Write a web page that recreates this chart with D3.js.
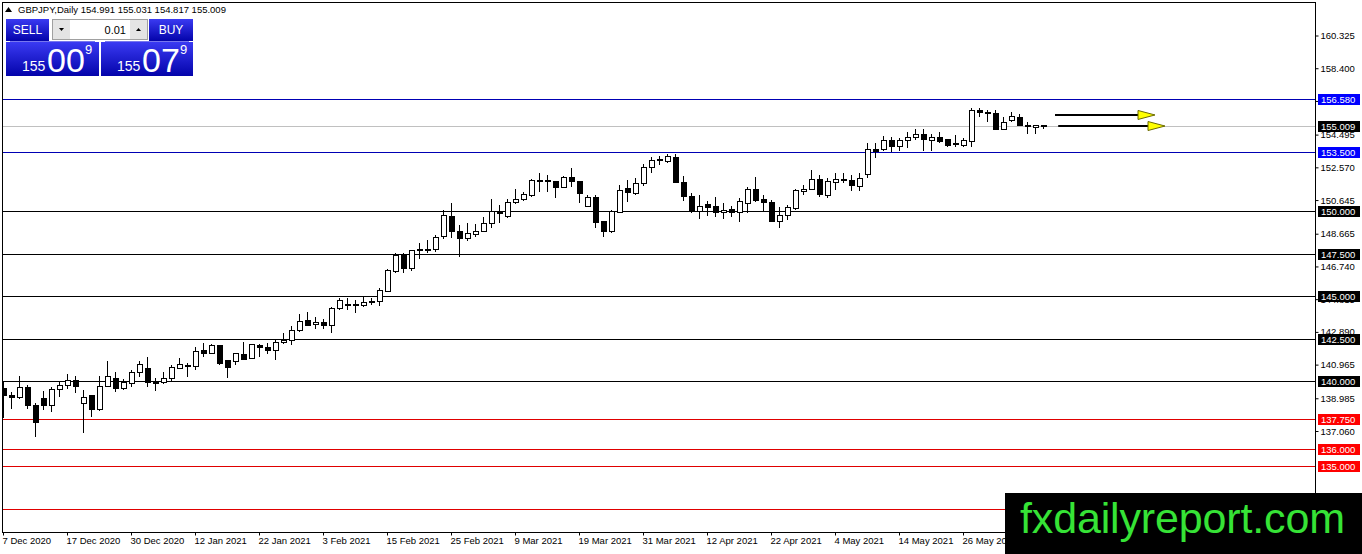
<!DOCTYPE html>
<html>
<head>
<meta charset="utf-8">
<script src="https://cdnjs.cloudflare.com/ajax/libs/d3/7.8.5/d3.min.js"></script>
<style>
  body { margin: 0; background: #fff; }
  svg { display: block; font-family: "Liberation Sans", Arial, sans-serif; }
</style>
</head>
<body>
<div id="chart"></div>
<script>
// Daily GBPJPY candles, oldest first (one bar per trading day)
const opens = [139.57,139.16,139.02,139.63,138.57,138.98,138.57,139.51,139.71,140.04,
  138.69,139.12,138.35,139.66,140.16,139.55,139.86,140.49,140.75,140.00,
  139.92,140.16,140.75,140.90,140.88,141.78,141.63,142.08,141.18,141.12,
  141.57,141.31,142.10,141.96,141.80,142.25,142.41,142.96,143.57,143.33,
  143.47,143.27,144.28,144.51,144.51,144.45,144.69,144.69,145.28,146.45,
  147.39,146.59,147.75,147.75,147.71,148.49,149.69,148.82,148.37,148.63,
  148.81,149.28,149.98,149.66,150.49,150.66,150.90,151.82,151.76,151.71,
  151.37,151.98,151.75,150.28,150.82,149.37,148.81,149.92,151.33,151.04,
  151.63,152.57,153.04,152.92,153.16,151.69,150.88,150.00,150.39,150.28,
  149.92,150.08,149.92,150.45,151.28,150.65,150.53,149.39,149.75,150.12,
  151.14,151.28,151.86,150.90,151.69,151.86,151.80,151.43,152.16,153.59,
  153.59,154.12,153.78,154.16,154.33,154.51,154.16,154.33,154.22,153.94,
  153.88,154.08,155.94,155.80,155.75,154.82,155.31,155.51,155.04,154.94,
  154.991];
const highs = [139.96,139.35,140.29,139.76,138.69,139.41,139.66,139.96,140.41,140.29,
  139.47,139.15,140.29,141.18,140.53,140.10,140.65,141.18,141.43,140.16,
  140.53,140.94,141.34,141.04,141.98,142.22,142.18,142.09,141.24,141.65,
  142.31,142.18,142.18,142.25,142.45,142.80,143.24,143.94,144.06,143.75,
  143.63,144.37,144.88,144.88,144.76,145.00,144.90,145.47,146.61,147.51,
  147.51,147.71,148.10,148.29,148.61,150.06,150.45,149.18,149.28,149.24,
  149.66,150.71,150.33,150.71,151.28,151.14,151.86,152.22,152.12,151.72,
  152.06,152.51,151.77,150.94,150.94,149.43,150.06,151.53,151.82,151.92,
  152.76,153.16,153.24,153.35,153.35,152.06,151.08,150.94,150.59,150.84,
  150.45,150.31,150.75,151.43,151.98,150.94,150.65,150.25,150.33,151.29,
  151.53,152.41,152.12,151.92,152.25,152.25,152.12,152.22,153.98,153.98,
  154.39,154.37,154.31,154.67,154.82,154.82,154.51,154.63,154.23,154.47,
  154.31,156.04,156.04,155.94,155.94,155.51,155.80,155.71,155.25,155.04,
  155.031];
const lows = [137.82,138.33,138.94,138.33,136.72,138.29,138.19,139.08,139.51,139.28,
  136.92,137.90,138.22,139.63,139.35,139.47,139.63,140.22,139.63,139.43,
  139.82,140.02,140.69,140.25,140.65,141.43,141.59,140.94,140.19,140.94,
  141.24,141.28,141.43,141.59,141.24,142.18,142.12,142.90,143.24,143.08,
  143.04,142.80,144.18,144.18,143.98,144.33,144.49,144.41,145.24,146.37,
  146.37,146.49,147.19,147.51,147.61,148.33,148.39,147.28,148.25,148.49,
  148.78,148.98,149.31,149.61,150.39,150.61,150.84,151.14,151.14,150.75,
  151.33,151.43,150.49,150.25,149.02,148.49,148.72,149.90,150.55,150.94,
  151.47,152.25,152.71,152.84,151.63,150.61,149.86,149.53,149.71,149.63,
  149.53,149.63,149.33,149.86,150.51,150.02,149.37,149.02,149.47,150.06,
  150.94,151.24,150.84,150.75,151.24,151.63,151.20,151.20,151.92,153.10,
  153.53,153.45,153.53,153.69,154.18,153.53,153.53,153.98,153.75,153.75,
  153.75,153.75,155.55,155.25,154.80,154.78,155.25,154.98,154.51,154.51,
  154.817];
const closes = [139.14,139.06,139.63,138.55,137.57,138.57,139.53,139.71,140.04,139.66,
  139.04,138.35,139.69,140.29,139.55,139.90,140.49,140.98,139.92,139.88,
  140.16,140.81,140.98,140.92,141.76,141.63,142.08,141.02,140.78,141.59,
  141.29,142.12,141.98,141.78,142.25,142.41,142.98,143.51,143.29,143.45,
  143.24,144.24,144.76,144.43,144.45,144.63,144.63,145.34,146.53,147.39,
  146.63,147.67,147.67,147.67,148.45,149.71,148.81,148.37,148.65,148.82,
  149.28,149.96,149.86,150.51,150.69,151.00,151.81,151.75,151.78,151.37,
  151.98,151.71,151.02,150.82,149.31,148.78,149.96,151.22,151.10,151.63,
  152.57,153.00,152.96,153.18,151.69,150.84,150.00,150.25,150.19,149.92,
  150.06,149.92,150.57,151.28,150.59,150.49,149.39,149.75,150.19,151.19,
  151.28,151.86,150.96,151.71,151.86,151.78,151.49,151.92,153.59,153.51,
  154.12,153.78,154.12,154.35,154.51,154.18,154.35,154.08,153.88,153.96,
  154.12,155.94,155.82,155.72,154.82,155.22,155.55,155.02,154.98,155.04,
  155.009];

// time axis labels, one every 8 bars
const dateLabels = ["7 Dec 2020", "17 Dec 2020", "30 Dec 2020", "12 Jan 2021", "22 Jan 2021",
  "3 Feb 2021", "15 Feb 2021", "25 Feb 2021", "9 Mar 2021", "19 Mar 2021", "31 Mar 2021",
  "12 Apr 2021", "22 Apr 2021", "4 May 2021", "14 May 2021", "26 May 2021"];

// price scale labels
const priceTicks = [160.325, 158.4, 156.475, 154.495, 152.57, 150.645, 148.665,
  146.74, 144.815, 142.89, 140.965, 138.985, 137.06];

// horizontal levels
const blueLevels = [156.58, 153.5];
const blackLevels = [150, 147.5, 145, 142.5, 140];
const redLevels = [137.75, 136, 135, 132.5];

// quote
const symbol = "GBPJPY,Daily";
const bid = 155.009, ask = 155.079;
const lotSize = "0.01";

// projection arrows (bar index from / to, price)
const arrowFrom = [131.5, 131.9];
const arrowTo = [144, 145.25];
const arrowPrice = [155.65, 155.0];

const width = 1362, height = 554;
const plot = {left: 3, right: 1316, top: 3, bottom: 533};
const barStep = 8;
const watermark = {x: 1005, y: 493};

const svg = d3.select("#chart")
  .append("svg")
    .attr("width", width)
    .attr("height", height);

const defs = svg.append("defs");
defs.append("clipPath").attr("id", "plotClip")
  .append("rect")
    .attr("x", plot.left).attr("y", plot.top)
    .attr("width", plot.right - plot.left).attr("height", plot.bottom - plot.top);

const grad = defs.append("linearGradient").attr("id", "blueGrad")
  .attr("x1", 0).attr("y1", 0).attr("x2", 0).attr("y2", 1);
grad.append("stop").attr("offset", "0%").attr("stop-color", "#3a3af2");
grad.append("stop").attr("offset", "100%").attr("stop-color", "#0303aa");

// Scales
const x = d3.scaleLinear()
  .domain([0, (plot.right - plot.left) / barStep])
  .range([plot.left, plot.right]);
const y = d3.scaleLinear()
  .domain([137.06, 160.325])
  .range([431, 35.5]);

const bars = d3.range(opens.length).map(i => ({
  i: i, o: opens[i], h: highs[i], l: lows[i], c: closes[i]
}));

const fmt = d3.format(".3f");

// Horizontal levels and bid line
const plotG = svg.append("g").attr("clip-path", "url(#plotClip)");

const levels = []
  .concat(blueLevels.map(p => ({p: p, line: "#0000b4", box: "#0000ff"})))
  .concat(blackLevels.map(p => ({p: p, line: "#000000", box: "#000000"})))
  .concat(redLevels.map(p => ({p: p, line: "#e00000", box: "#ff0000"})));

plotG.append("line")
  .attr("x1", plot.left).attr("x2", plot.right)
  .attr("y1", Math.round(y(bid)) + 0.5).attr("y2", Math.round(y(bid)) + 0.5)
  .attr("stroke", "#c0c0c0");

plotG.selectAll("line.level")
  .data(levels)
  .enter()
  .append("line")
    .attr("class", "level")
    .attr("x1", plot.left).attr("x2", plot.right)
    .attr("y1", d => Math.round(y(d.p)) + 0.5)
    .attr("y2", d => Math.round(y(d.p)) + 0.5)
    .attr("stroke", d => d.line);

// Candles
const candle = plotG.selectAll("g.candle")
  .data(bars)
  .enter()
  .append("g")
    .attr("class", "candle")
    .attr("shape-rendering", "crispEdges");

candle.append("line")
  .attr("x1", d => x(d.i) + 0.5).attr("x2", d => x(d.i) + 0.5)
  .attr("y1", d => y(d.h)).attr("y2", d => y(d.l))
  .attr("stroke", "#000");

candle.append("rect")
  .attr("x", d => x(d.i) - 2)
  .attr("width", 5)
  .attr("y", d => y(Math.max(d.o, d.c)))
  .attr("height", d => Math.max(1, y(Math.min(d.o, d.c)) - y(Math.max(d.o, d.c))))
  .attr("fill", d => d.c >= d.o ? "#fff" : "#000")
  .attr("stroke", "#000");

// Arrows
const arrows = d3.range(arrowPrice.length).map(i => ({from: arrowFrom[i], to: arrowTo[i], p: arrowPrice[i]}));
plotG.selectAll("line.arrow")
  .data(arrows)
  .enter()
  .append("line")
    .attr("x1", d => x(d.from))
    .attr("x2", d => x(d.to) - 17)
    .attr("y1", d => y(d.p)).attr("y2", d => y(d.p))
    .attr("stroke", "#000")
    .attr("stroke-width", 2);
plotG.selectAll("path.arrowhead")
  .data(arrows)
  .enter()
  .append("path")
    .attr("d", d => {
      const tx = x(d.to), ty = y(d.p);
      return `M${tx - 17},${ty - 4.5}L${tx},${ty}L${tx - 17},${ty + 4.5}Z`;
    })
    .attr("fill", "#ffff00")
    .attr("stroke", "#6b6b00")
    .attr("stroke-width", 1);

// Frame
svg.append("rect")
  .attr("x", plot.left - 0.5).attr("y", plot.top - 0.5)
  .attr("width", plot.right - plot.left).attr("height", plot.bottom - plot.top)
  .attr("fill", "none")
  .attr("stroke", "#000");
svg.append("line")
  .attr("x1", plot.right - 0.5).attr("x2", plot.right - 0.5)
  .attr("y1", plot.bottom).attr("y2", height)
  .attr("stroke", "#000");

// Price axis
const yAxis = svg.append("g")
  .attr("transform", `translate(${plot.right - 0.5},0)`)
  .call(d3.axisRight(y).tickValues(priceTicks).tickFormat(fmt).tickSize(3).tickPadding(2));
yAxis.select(".domain").remove();
yAxis.selectAll("text")
  .style("font-family", "Liberation Sans, Arial, sans-serif")
  .style("font-size", "9.5px")
  .attr("fill", "#000");

// Level labels on the price axis (the ones under the watermark are not visible)
const levelLabels = levels.concat([{p: bid, line: "#c0c0c0", box: "#000000"}])
  .filter(d => y(d.p) < watermark.y);
const lab = svg.selectAll("g.levelLabel")
  .data(levelLabels)
  .enter()
  .append("g")
    .attr("class", "levelLabel")
    .attr("transform", d => `translate(${plot.right + 2},${Math.round(y(d.p))})`);
lab.append("rect")
  .attr("x", 0).attr("y", -5)
  .attr("width", 42).attr("height", 11)
  .attr("fill", d => d.box);
lab.append("text")
  .attr("x", 3).attr("y", 4)
  .attr("fill", "#fff")
  .style("font-size", "9.5px")
  .text(d => fmt(d.p));

// Time axis
const xAxis = svg.append("g")
  .attr("transform", `translate(0,${plot.bottom - 0.5})`)
  .call(d3.axisBottom(x)
    .tickValues(dateLabels.map((d, k) => k * barStep))
    .tickFormat((d, k) => dateLabels[k])
    .tickSize(3).tickPadding(2));
xAxis.select(".domain").remove();
xAxis.selectAll("text")
  .attr("text-anchor", "start")
  .attr("dx", -1)
  .style("font-family", "Liberation Sans, Arial, sans-serif")
  .style("font-size", "9.5px")
  .attr("fill", "#000");

// Header
const last = bars[bars.length - 1];
svg.append("path")
  .attr("d", "M5,12L8.5,7L12,12Z")
  .attr("fill", "#000");
svg.append("text")
  .attr("x", 18).attr("y", 13)
  .style("font-size", "9.5px")
  .text(`${symbol}  ${fmt(last.o)} ${fmt(last.h)} ${fmt(last.l)} ${fmt(last.c)}`);

// One click trading panel
const panel = svg.append("g");
const quotes = [{price: bid, x0: 6, w: 93},
                {price: ask, x0: 101, w: 92}];

panel.append("rect").attr("x", 6).attr("y", 19).attr("width", 43).attr("height", 22).attr("fill", "url(#blueGrad)");
panel.append("rect").attr("x", 149).attr("y", 19).attr("width", 44).attr("height", 22).attr("fill", "url(#blueGrad)");
panel.append("text").attr("x", 27.5).attr("y", 34).attr("text-anchor", "middle")
  .attr("fill", "#fff").style("font-size", "12px").text("SELL");
panel.append("text").attr("x", 171).attr("y", 34).attr("text-anchor", "middle")
  .attr("fill", "#fff").style("font-size", "12px").text("BUY");

// lot box
panel.append("rect").attr("x", 52.5).attr("y", 19.5).attr("width", 95).attr("height", 20)
  .attr("fill", "#fff").attr("stroke", "#a0a0a0");
panel.append("rect").attr("x", 53).attr("y", 20).attr("width", 17).attr("height", 19).attr("fill", "#e4e4e4");
panel.append("rect").attr("x", 130).attr("y", 20).attr("width", 17).attr("height", 19).attr("fill", "#e4e4e4");
panel.append("path").attr("d", "M59,28L64,28L61.5,31Z").attr("fill", "#000");
panel.append("path").attr("d", "M136,31L141,31L138.5,28Z").attr("fill", "#000");
panel.append("text").attr("x", 126).attr("y", 34).attr("text-anchor", "end")
  .style("font-size", "11px").text(lotSize);

// price boxes
quotes.forEach(q => {
  const s = fmt(q.price);          // e.g. 155.009
  const big = s.slice(0, 3), pips = s.slice(4, 6), frac = s.slice(6);
  panel.append("rect").attr("x", q.x0).attr("y", 42).attr("width", q.w).attr("height", 34)
    .attr("fill", "url(#blueGrad)");
  panel.append("line").attr("x1", q.x0 + 4).attr("x2", q.x0 + q.w - 4)
    .attr("y1", 41.5).attr("y2", 41.5).attr("stroke", "#7777ee");
  panel.append("text").attr("x", q.x0 + 16).attr("y", 71)
    .attr("fill", "#fff").style("font-size", "14px").text(big);
  panel.append("text").attr("x", q.x0 + 41).attr("y", 72)
    .attr("fill", "#fff").style("font-size", "34px").text(pips);
  panel.append("text").attr("x", q.x0 + 79).attr("y", 54)
    .attr("fill", "#fff").style("font-size", "13px").text(frac);
});

// Watermark box
svg.append("rect")
  .attr("x", watermark.x).attr("y", watermark.y)
  .attr("width", width - watermark.x).attr("height", height - watermark.y)
  .attr("fill", "#000");
svg.append("text")
  .attr("x", watermark.x + 15).attr("y", 533)
  .attr("fill", "#36e336")
  .attr("textLength", 325)
  .style("font-size", "43px")
  .text("fxdailyreport.com");
</script>
</body>
</html>
